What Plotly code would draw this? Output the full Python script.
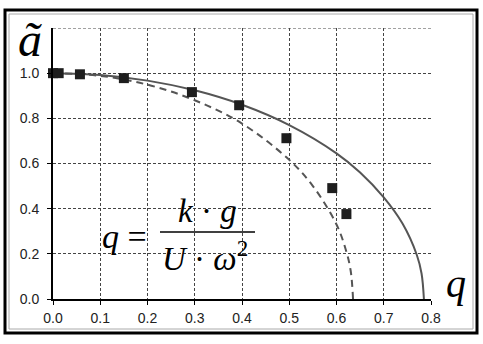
import plotly.graph_objects as go

# Experimental points (squares)
exp_q = [0.0, 0.012, 0.057, 0.15, 0.294, 0.394, 0.494, 0.591, 0.621]
exp_a = [1.0, 1.0, 0.995, 0.978, 0.916, 0.858, 0.712, 0.491, 0.376]

# Solid theoretical curve
solid_q = [0.0, 0.1, 0.2, 0.3, 0.4, 0.5, 0.6, 0.65, 0.7, 0.74, 0.77, 0.78, 0.785]
solid_a = [1.0, 0.992, 0.967, 0.924, 0.86, 0.77, 0.645, 0.56, 0.45, 0.333, 0.195, 0.113, 0.0]

# Dashed theoretical curve
dash_q = [0.0, 0.1, 0.2, 0.3, 0.4, 0.5, 0.55, 0.6, 0.62, 0.63, 0.635]
dash_a = [1.0, 0.988, 0.949, 0.88, 0.777, 0.616, 0.5, 0.33, 0.216, 0.125, 0.0]

x_ticks = [0.0, 0.1, 0.2, 0.3, 0.4, 0.5, 0.6, 0.7, 0.8]
x_labels = ["0.0", "0.1", "0.2", "0.3", "0.4", "0.5", "0.6", "0.7", "0.8"]
y_ticks = [0.0, 0.2, 0.4, 0.6, 0.8, 1.0]
y_labels = ["0.0", "0.2", "0.4", "0.6", "0.8", "1.0"]
y_top = 1.2

W, H = 483, 344
L, R, T, B = 53, 431, 28, 299  # plot area in pixels


def px(x):
    return (x - L) / (R - L)


def py(y):
    return (B - y) / (B - T)


fig = go.Figure()
fig.add_trace(go.Scatter(x=solid_q, y=solid_a, mode="lines", line=dict(color="#555555", width=2, shape="spline"),
                         showlegend=False, cliponaxis=False))
fig.add_trace(go.Scatter(x=dash_q, y=dash_a, mode="lines", line=dict(color="#555555", width=2, dash="7px,5px", shape="spline"),
                         showlegend=False, cliponaxis=False))
fig.add_trace(go.Scatter(x=exp_q, y=exp_a, mode="markers", marker=dict(symbol="square", size=10, color="#1e1e1e"),
                         showlegend=False, cliponaxis=False))

axis_common = dict(showgrid=True, gridcolor="#444444", griddash="3px,2px", gridwidth=1,
                   zeroline=False, showline=True, linecolor="black", linewidth=2,
                   ticks="outside", ticklen=4, tickcolor="black", tickwidth=1,
                   tickfont=dict(family="Liberation Sans, Arial", size=14, color="#222222"))

fig.update_xaxes(range=[0, 0.8], tickvals=x_ticks, ticktext=x_labels, ticklabelstandoff=1, **axis_common)
fig.update_yaxes(range=[0, y_top], tickvals=y_ticks, ticktext=y_labels, ticklabelstandoff=5, **axis_common)

# top grid line
fig.add_shape(type="line", xref="x", yref="y", x0=0, x1=0.8, y0=y_top, y1=y_top,
              line=dict(color="#444444", width=1, dash="3px,2px"))

serif = "Liberation Serif, Times New Roman, serif"
anns = [
    dict(x=30, y=40, text="<i>ã</i>", size=48),
    dict(x=456, y=283, text="<i>q</i>", size=40),
    dict(x=124, y=236, text="<i>q</i> =", size=34),
    dict(x=207, y=211, text="<i>k</i> · <i>g</i>", size=33),
    dict(x=205, y=256, text="<i>U</i> · <i>ω</i><sup>2</sup>", size=33),
]
for a in anns:
    fig.add_annotation(x=px(a["x"]), y=py(a["y"]), xref="paper", yref="paper",
                       text=a["text"], showarrow=False, xanchor="center", yanchor="middle",
                       font=dict(family=serif, size=a["size"], color="black"))

# fraction bar
fig.add_shape(type="line", xref="paper", yref="paper", x0=px(160), x1=px(255),
              y0=py(232), y1=py(232), line=dict(color="black", width=1.5))
# white box behind formula (grid hidden behind it)
fig.add_shape(type="rect", xref="paper", yref="paper", x0=px(98), x1=px(268),
              y0=py(280), y1=py(190), line=dict(width=0), fillcolor="white", layer="between")
# outer frame
fig.add_shape(type="rect", xref="paper", yref="paper", x0=px(5), x1=px(477),
              y0=py(333), y1=py(10), line=dict(color="black", width=3))
fig.add_shape(type="rect", xref="paper", yref="paper", x0=px(9), x1=px(473),
              y0=py(329), y1=py(14), line=dict(color="#aaaaaa", width=1))

fig.update_layout(width=W, height=H, margin=dict(l=L, r=W - R, t=T, b=H - B),
                  plot_bgcolor="white", paper_bgcolor="white")
fig.write_html("out.html", config={"displayModeBar": False},
               post_script="document.body.style.margin='0px';document.body.style.padding='0px';")
